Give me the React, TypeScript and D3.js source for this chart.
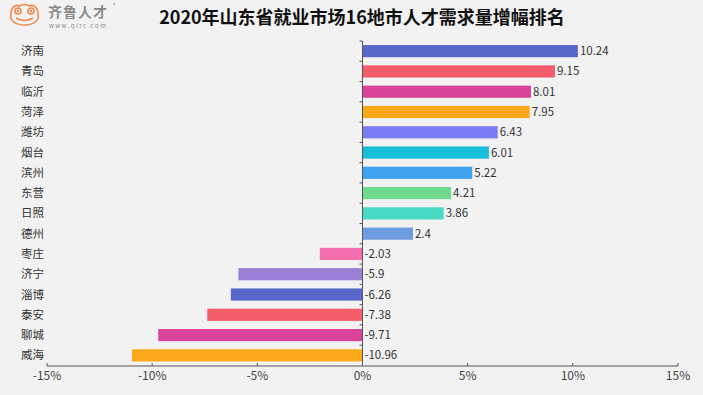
import React from "react";
import { scaleLinear, scaleBand } from "d3";

const cities = ["济南", "青岛", "临沂", "菏泽", "潍坊", "烟台", "滨州", "东营", "日照", "德州", "枣庄", "济宁", "淄博", "泰安", "聊城", "威海"];
const growth = [10.24, 9.15, 8.01, 7.95, 6.43, 6.01, 5.22, 4.21, 3.86, 2.4, -2.03, -5.9, -6.26, -7.38, -9.71, -10.96];
const barColors = ["#5867c9", "#f25c6b", "#d9449a", "#fba81a", "#7b7cf2", "#16bed8", "#3fa2f0", "#6fd98f", "#47d9c1", "#6d9de0", "#f56faf", "#9a7fd6", "#5867c9", "#f25c6b", "#d9449a", "#fba81a"];
const xTicks = [-15, -10, -5, 0, 5, 10, 15];

const W = 703;
const H = 395;
const FONT = "'Noto Sans CJK SC', 'Noto Sans', sans-serif";

const App: React.FC = () => {
  const x = scaleLinear().domain([-15, 15]).range([47, 678]);
  const y = scaleBand<string>().domain(cities).range([41, 365.5]).paddingInner(0.4).paddingOuter(0.2);
  const x0 = x(0);
  const axisY = 366;

  return (
    <svg width={W} height={H} style={{ position: "absolute", left: 0, top: 0, background: "#f2f2f2" }} fontFamily={FONT}>
      <rect width={W} height={H} fill="#f2f2f2" />

      {/* logo */}
      <g stroke="#f08a4b" strokeWidth={1.6} fill="none">
        <path d="M11,14 C11,7 16,4 20,6 C22,4 27,4 29,6 C33,4 38,7 38,14 C40,20 34,25 24.5,25 C15,25 9,20 11,14 Z" />
        <circle cx={18} cy={11} r={3} />
        <circle cx={31} cy={11} r={3} />
        <path d="M16,18 Q24.5,23 33,18" />
      </g>
      <circle cx={18} cy={11} r={1.2} fill="#f08a4b" />
      <circle cx={31} cy={11} r={1.2} fill="#f08a4b" />
      <text x={48} y={17} fontSize={14} fontWeight="bold" fill="#8a8a8a" letterSpacing={1}>齐鲁人才</text>
      <text x={113} y={7} fontSize={5} fill="#8a8a8a">®</text>
      <text x={49} y={28} fontSize={6} fill="#8a8a8a" letterSpacing={1.5}>www.qlrc.com</text>

      <text x={362} y={24} textAnchor="middle" fontSize={18} fontWeight="bold" fill="#111">
        2020年山东省就业市场16地市人才需求量增幅排名
      </text>

      {/* bars */}
      {cities.map((c, i) => {
        const v = growth[i];
        const bx = Math.min(x(v), x0);
        const bw = Math.abs(x(v) - x0);
        const by = y(c) as number;
        const bh = y.bandwidth();
        return (
          <g key={c}>
            <rect x={bx} y={by} width={bw} height={bh} fill={barColors[i]} />
            <text x={v >= 0 ? x(v) + 2 : x0 + 2} y={by + bh / 2} dy="0.35em" fontSize={11.5} fill="#333">
              {v}
            </text>
            <text x={21} y={by + bh / 2} dy="0.35em" fontSize={11.5} fill="#333">
              {c}
            </text>
          </g>
        );
      })}

      {/* y axis */}
      <line x1={x0} x2={x0} y1={41} y2={axisY} stroke="#555" strokeWidth={1} />
      {cities.map((c) => {
        const ty = (y(c) as number) - (y.step() * y.paddingInner()) / 2;
        return <line key={c} x1={x0 - 3} x2={x0} y1={ty} y2={ty} stroke="#555" />;
      })}

      {/* x axis */}
      <line x1={x(-15)} x2={x(15)} y1={axisY} y2={axisY} stroke="#555" strokeWidth={1.2} />
      {xTicks.map((t) => (
        <g key={t}>
          <line x1={x(t)} x2={x(t)} y1={axisY - 3} y2={axisY} stroke="#555" />
          <text x={x(t)} y={axisY + 14} textAnchor="middle" fontSize={12} fill="#444">
            {t}%
          </text>
        </g>
      ))}
    </svg>
  );
};

export default App;
